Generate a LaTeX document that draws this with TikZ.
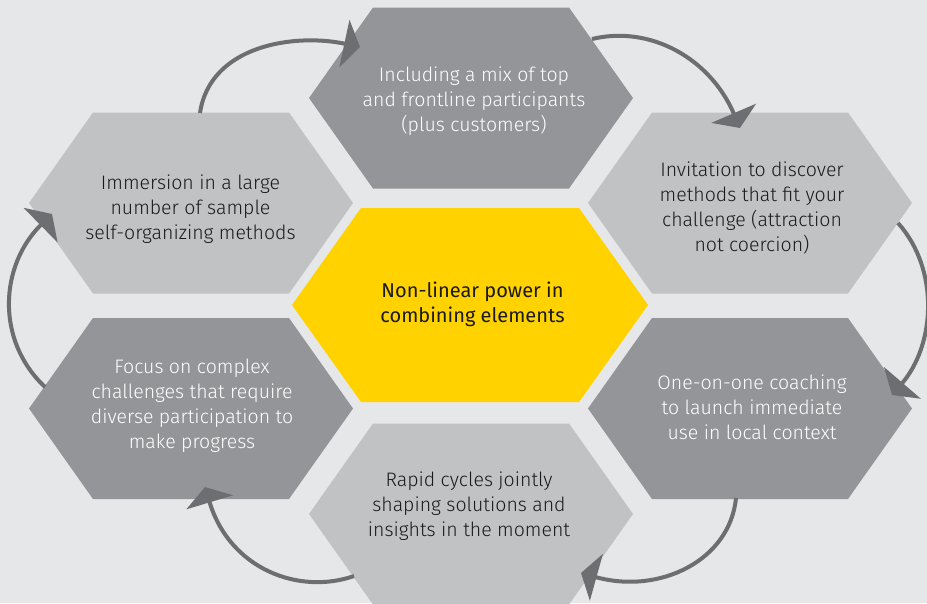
\documentclass[tikz,border=0pt]{standalone}
\usepackage{fontspec}
\setmainfont{Fira Sans Light}
\newfontfamily\regfont{Fira Sans}
\usetikzlibrary{arrows.meta}
\definecolor{bg}{HTML}{E6E7E8}
\definecolor{darkhex}{HTML}{939598}
\definecolor{lighthex}{HTML}{C1C2C4}
\definecolor{eyyellow}{HTML}{FFD200}
\definecolor{arrowgray}{HTML}{6D6E71}
\definecolor{txtdark}{HTML}{1A1A1A}
\begin{document}
\begin{tikzpicture}[x=1pt,y=-1pt,
  lbl/.style={align=center, inner sep=0pt, font=\fontsize{19.5pt}{25pt}\selectfont},
  onDark/.style={lbl, text=white},
  onLight/.style={lbl, text=txtdark},
  cycarrow/.style={draw=arrowgray, line width=4pt, -{Triangle[length=16pt,width=48pt]}}]
\useasboundingbox (0,0) rectangle (927,603);
\clip (0,0) rectangle (927,603);
\fill[bg] (0,0) rectangle (927,603);
% outer hexagons
\foreach \x/\y/\c in {471/98/darkhex, 750/203/lighthex, 750/408.5/darkhex, 471/514/lighthex, 191/408.5/darkhex, 191/203/lighthex}
  \fill[\c] (\x-162,\y) -- (\x-98,\y-90.5) -- (\x+98,\y-90.5) -- (\x+162,\y) -- (\x+98,\y+90.5) -- (\x-98,\y+90.5) -- cycle;
% centre hexagon
\fill[eyyellow] (292,305) -- (361,208) -- (579,208) -- (648,305) -- (579,402) -- (361,402) -- cycle;
% connector end points
\coordinate (a1s) at (200,113);  \coordinate (a1e) at (360,47);
\coordinate (a2s) at (592,39);   \coordinate (a2e) at (740,128);
\coordinate (a3s) at (898,223);  \coordinate (a3e) at (892,395);
\coordinate (a4s) at (736,498);  \coordinate (a4e) at (581,573);
\coordinate (a5s) at (354,576);  \coordinate (a5e) at (205,487);
\coordinate (a6s) at (45,387);   \coordinate (a6e) at (52,214);
\draw[cycarrow] (a1s) .. controls (210,45) and (295,33) .. (a1e);
\draw[cycarrow] (a2s) .. controls (650,25) and (710,58) .. (a2e);
\draw[cycarrow] (a3s) .. controls (940,270) and (935,345) .. (a3e);
\draw[cycarrow] (a4s) .. controls (730,560) and (660,595) .. (a4e);
\draw[cycarrow] (a5s) .. controls (300,595) and (230,570) .. (a5e);
\draw[cycarrow] (a6s) .. controls (-5,340) and (0,265) .. (a6e);
% labels
\node[onDark] (top) at (474,101) {Including a mix of top\\and frontline participants\\(plus customers)};
\node[onLight] (rt) at (752,208) {Invitation to discover\\methods that fit your\\challenge (attraction\\not coercion)};
\node[onDark] (rb) at (752,407) {One-on-one coaching\\to launch immediate\\use in local context};
\node[onLight] (bot) at (469,506) {Rapid cycles jointly\\shaping solutions and\\insights in the moment};
\node[onDark] (lb) at (192,406) {Focus on complex\\challenges that require\\diverse participation to\\make progress};
\node[onLight] (lt) at (190.5,209) {Immersion in a large\\number of sample\\self-organizing methods};
\node[onLight, font=\regfont\fontsize{20pt}{25pt}\selectfont] (ctr) at (472.5,304) {Non-linear power in\\combining elements};
\end{tikzpicture}
\end{document}
